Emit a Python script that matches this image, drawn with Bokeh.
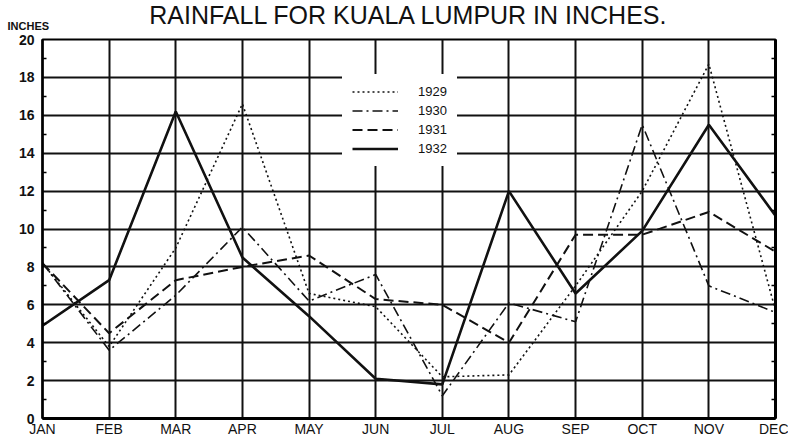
from bokeh.plotting import figure
from bokeh.models import Range1d, FixedTicker, LinearAxis, Legend, LegendItem, Label
from bokeh.embed import file_html
from bokeh.resources import INLINE

# ---- data ----
months = ["JAN", "FEB", "MAR", "APR", "MAY", "JUN", "JUL", "AUG", "SEP", "OCT", "NOV", "DEC"]
month_idx = list(range(len(months)))
y_ticks = [0, 2, 4, 6, 8, 10, 12, 14, 16, 18, 20]
y_minor = [1, 3, 5, 7, 9, 11, 13, 15, 17, 19]

rain_1929 = [8.2, 3.8, 9.0, 16.6, 6.6, 5.9, 2.2, 2.3, 7.0, 12.0, 18.7, 5.7]
rain_1930 = [8.2, 3.6, 6.5, 10.1, 6.2, 7.6, 1.2, 6.1, 5.1, 15.5, 7.0, 5.6]
rain_1931 = [8.2, 4.5, 7.3, 8.0, 8.6, 6.3, 6.0, 4.0, 9.7, 9.7, 10.9, 8.8]
rain_1932 = [4.9, 7.3, 16.2, 8.5, 5.4, 2.1, 1.8, 12.0, 6.6, 9.9, 15.5, 10.7]

FONT = "Liberation Sans"

p = figure(width=788, height=439, x_range=Range1d(0, 11), y_range=Range1d(0, 20),
           output_backend="svg", toolbar_location=None,
           min_border_left=42, min_border_right=13, min_border_top=38, min_border_bottom=18,
           title="RAINFALL FOR KUALA LUMPUR IN INCHES.")

p.title.align = "center"
p.title.text_font = FONT
p.title.text_font_size = "25px"
p.title.text_font_style = "normal"
p.title.text_color = "#111111"
p.title.standoff = -3
p.title.offset = 0

p.background_fill_color = "white"
p.border_fill_color = "white"
p.outline_line_color = "black"
p.outline_line_width = 2

# grid
p.xgrid.ticker = FixedTicker(ticks=month_idx)
p.ygrid.ticker = FixedTicker(ticks=y_ticks)
for g in (p.xgrid, p.ygrid):
    g.grid_line_color = "#111111"
    g.grid_line_width = 2
    g.grid_line_alpha = 1

# x axis
xa = p.xaxis[0]
xa.ticker = FixedTicker(ticks=month_idx)
xa.major_label_overrides = {i: m for i, m in zip(month_idx, months)}
xa.major_tick_in = 0
xa.major_tick_out = 0
xa.minor_tick_in = 0
xa.minor_tick_out = 0
xa.axis_line_width = 3
xa.axis_line_color = "black"
xa.major_label_standoff = 2
xa.major_label_text_font = FONT
xa.major_label_text_font_size = "14px"
xa.major_label_text_color = "#111111"

# y axis
ya = p.yaxis[0]
ya.ticker = FixedTicker(ticks=y_ticks, minor_ticks=y_minor)
ya.major_tick_in = 0
ya.major_tick_out = 0
ya.minor_tick_in = 4
ya.minor_tick_out = 0
ya.minor_tick_line_width = 1.5
ya.axis_line_width = 2.5
ya.axis_line_color = "black"
ya.major_label_standoff = 8
ya.major_label_text_font = FONT
ya.major_label_text_font_size = "14px"
ya.major_label_text_font_style = "bold"
ya.major_label_text_color = "#111111"

# right edge axis (minor ticks only, no labels)
ra = LinearAxis(ticker=FixedTicker(ticks=[], minor_ticks=y_minor),
                major_tick_in=0, major_tick_out=0,
                minor_tick_in=4, minor_tick_out=0, minor_tick_line_width=1.5,
                axis_line_width=3, axis_line_color="black", major_label_standoff=0)
p.add_layout(ra, "right")

# lines
r29 = p.line(month_idx, rain_1929, line_color="#111111", line_width=1.6, line_dash="2 3")
r30 = p.line(month_idx, rain_1930, line_color="#111111", line_width=1.6, line_dash="10 4 2 4")
r31 = p.line(month_idx, rain_1931, line_color="#111111", line_width=2, line_dash="10 5")
r32 = p.line(month_idx, rain_1932, line_color="#111111", line_width=2.6)

legend = Legend(items=[LegendItem(label="1929", renderers=[r29]),
                       LegendItem(label="1930", renderers=[r30]),
                       LegendItem(label="1931", renderers=[r31]),
                       LegendItem(label="1932", renderers=[r32])],
                location=(300, 252), glyph_width=46, glyph_height=15, label_standoff=20,
                spacing=4, padding=10, border_line_alpha=0, background_fill_color="white",
                background_fill_alpha=1, label_text_font=FONT, label_text_font_size="13px",
                label_text_color="#111111")
p.add_layout(legend, "center")

# unit label above the y axis, in the top side panel
inches = Label(x=-35, y=8, x_units="screen", y_units="screen",
               text="INCHES", text_font=FONT, text_font_size="11px", text_font_style="bold",
               text_color="#111111", text_baseline="bottom", text_align="left")
p.add_layout(inches, "above")

open("out.html", "w").write(file_html(p, INLINE))
